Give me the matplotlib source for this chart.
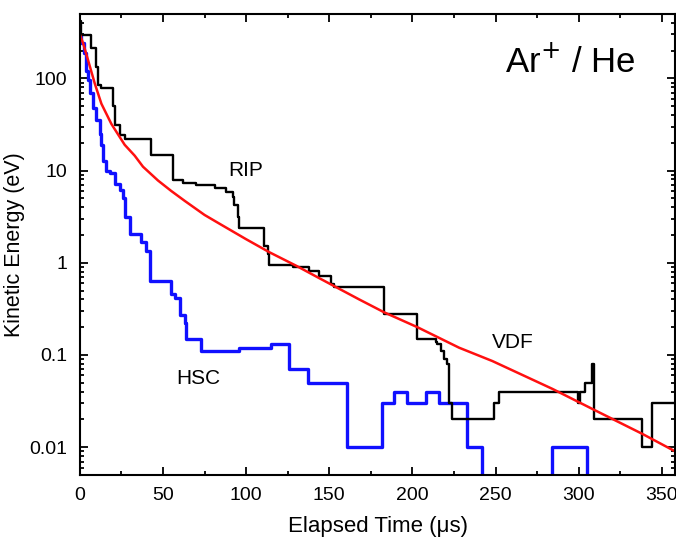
import matplotlib.pyplot as plt
from matplotlib.ticker import FixedLocator, LogLocator, MultipleLocator, NullFormatter

plt.rcParams["font.family"] = ["Liberation Sans", "DejaVu Sans"]

# RIP (black step curve): step start time (us), energy (eV)
rip_t = [0, 1, 7, 10, 11, 13, 20, 21, 24, 27, 43, 56, 62, 70, 81, 88, 92, 93, 95, 96,
         111, 113, 114, 128, 138, 144, 151, 153, 183, 203, 214, 215, 217, 219, 221, 222,
         224, 249, 252, 299.5, 300.5, 304, 308, 309, 338, 344, 360]
rip_e = [420, 293, 212, 131, 84, 78, 50, 31, 24, 22, 14.6, 7.8, 7.4, 7.0, 6.4, 5.8, 5.1, 4.2, 3.1, 2.4,
         1.53, 1.25, 0.95, 0.9, 0.82, 0.72, 0.59, 0.55, 0.28, 0.15, 0.14, 0.13, 0.11, 0.09, 0.08, 0.03,
         0.02, 0.03, 0.04, 0.03, 0.04, 0.05, 0.08, 0.02, 0.01, 0.03, 0.03]

# HSC (blue step curve); 1e-4 stands for "off the bottom of the axis"
hsc_t = [0, 1, 2.5, 4, 5, 6, 8, 10, 12, 13, 14, 16, 18, 21, 24, 26, 27, 30, 37, 40, 42,
         55, 57, 60, 63, 64, 73, 96, 115, 126, 137, 160.5, 181.5, 189, 197, 208, 216, 233,
         241.5, 284, 305, 360]
hsc_e = [290, 240, 186, 121, 95, 69, 48, 35, 25, 19, 12.8, 10, 9.3, 7.2, 6.1, 5.0, 3.1, 2.07, 1.7, 1.35, 0.64,
         0.46, 0.41, 0.27, 0.22, 0.15, 0.11, 0.12, 0.13, 0.07, 0.05, 0.01, 0.03, 0.04, 0.03, 0.04, 0.03, 0.01,
         1e-4, 0.01, 1e-4, 1e-4]

# VDF (red smooth curve)
vdf_t = [0, 2, 5, 9, 13, 19, 27, 33, 38, 47, 55, 63, 75, 84, 100, 114, 130, 144, 168, 183, 203, 228,
         248, 284, 310, 338, 358]
vdf_e = [300, 240, 157, 88, 53, 32, 19.0, 14.5, 11.0, 7.8, 6.0, 4.7, 3.3, 2.65, 1.8, 1.3, 0.93, 0.68,
         0.40, 0.29, 0.20, 0.12, 0.086, 0.043, 0.025, 0.014, 0.009]

ytick_vals = [0.01, 0.1, 1, 10, 100]
ytick_labels = ["0.01", "0.1", "1", "10", "100"]

fig = plt.figure(figsize=(6.76, 5.40), dpi=100)
ax = fig.add_axes([0.118, 0.1204, 0.881, 0.854])

ax.plot(hsc_t, hsc_e, color="#1010ff", lw=2.4, drawstyle="steps-post")
ax.plot(rip_t, rip_e, color="black", lw=1.7, drawstyle="steps-post")
ax.plot(vdf_t, vdf_e, color="#ff1010", lw=1.8)

ax.set_yscale("log")
ax.set_xlim(0, 358)
ax.set_ylim(0.005, 500)

ax.xaxis.set_major_locator(MultipleLocator(50))
ax.xaxis.set_minor_locator(MultipleLocator(25))
ax.yaxis.set_major_locator(FixedLocator(ytick_vals))
ax.set_yticklabels(ytick_labels)
ax.yaxis.set_minor_locator(LogLocator(base=10, subs=range(2, 10)))
ax.yaxis.set_minor_formatter(NullFormatter())

ax.tick_params(which="both", direction="in", top=True, right=True, labelsize=14, width=1.3)
ax.tick_params(which="major", length=6, pad=9)
ax.tick_params(which="minor", length=3)
for s in ax.spines.values():
    s.set_linewidth(1.5)

ax.set_xlabel("Elapsed Time (\u03bcs)", fontsize=16, labelpad=8)
ax.set_ylabel("Kinetic Energy (eV)", fontsize=15.5, labelpad=0)
ax.yaxis.set_label_coords(-0.092, 0.5)

ax.text(100, 10, "RIP", fontsize=15, ha="center", va="center")
ax.text(71, 0.055, "HSC", fontsize=15, ha="center", va="center")
ax.text(260, 0.135, "VDF", fontsize=15, ha="center", va="center")
ax.text(295, 150, "Ar$^{+}$ / He", fontsize=25, ha="center", va="center")

fig.savefig("out.png", dpi=100)
